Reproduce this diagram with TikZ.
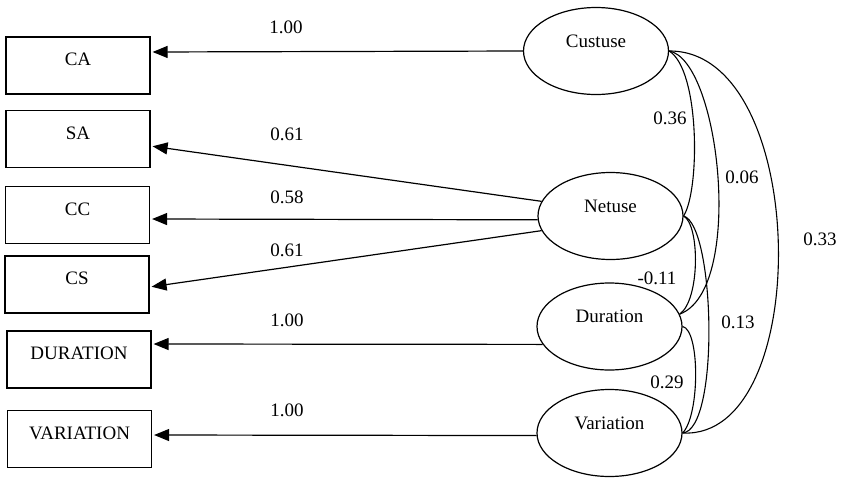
\documentclass[tikz,border=0pt]{standalone}
\usepackage{fontspec}
\setmainfont{Liberation Serif}
\usetikzlibrary{arrows.meta,shapes.geometric}
\begin{document}
\begin{tikzpicture}[x=1pt,y=-1pt,
  font=\fontsize{19}{22}\selectfont,
  obs/.style={draw, line width=1.2pt, rectangle, minimum width=144pt,
    minimum height=57pt, inner sep=0pt, text height=10pt, text depth=10pt},
  lat/.style={draw, line width=1.2pt, ellipse, minimum width=145pt,
    minimum height=87pt, inner sep=0pt, text height=10pt, text depth=18pt},
  load/.style={line width=1.2pt, -{Triangle[length=15pt,width=12pt]}, shorten >=2pt},
  cov/.style={line width=1.1pt},
  coef/.style={inner sep=0pt, anchor=center}
]
\useasboundingbox (0,0) rectangle (846,477);

% observed indicators
\node[obs] (ca)  at (78,65.5)  {CA};
\node[obs] (sa)  at (78,139)   {SA};
\node[obs] (cc)  at (77.5,215) {CC};
\node[obs] (cs)  at (77,284.5) {CS};
\node[obs] (du)  at (79,359.5) {DURATION};
\node[obs] (va)  at (79.5,439) {VARIATION};

% latent factors
\node[lat] (cust) at (596,51)    {Custuse};
\node[lat] (net)  at (610.5,216) {Netuse};
\node[lat] (dur)  at (609.5,326.5) {Duration};
\node[lat] (var)  at (609.5,433) {Variation};

% loadings
\draw[load] (cust.west) -- ([yshift=13.5pt]ca.east);
\draw[load] (net.168)   -- ([yshift=-7pt]sa.east);
\draw[load] (net.183)   -- ([yshift=-4pt]cc.east);
\draw[load] (net.192.5) -- ([yshift=-2.5pt]cs.east);
\draw[load] (dur.195)   -- ([yshift=15.5pt]du.east);
\draw[load] (var.182)   -- ([yshift=4pt]va.east);

\node[coef] (l1) at (286,27)  {1.00};
\node[coef] (l2) at (287,134) {0.61};
\node[coef] (l3) at (287,197) {0.58};
\node[coef] (l4) at (287,250) {0.61};
\node[coef] (l5) at (287,320) {1.00};
\node[coef] (l6) at (287,410) {1.00};

% factor covariances
\draw[cov] (cust.east) .. controls (700,70) and (700,190) .. (net.east);
\draw[cov] (cust.east) .. controls (720,60) and (745,290) .. (dur.10);
\draw[cov] (cust.east) .. controls (810,50) and (815,440) .. (var.east);
\draw[cov] (net.east)  .. controls (700,225) and (700,300) .. (dur.10);
\draw[cov] (net.east)  .. controls (715,225) and (720,430) .. (var.east);
\draw[cov] (dur.east)  .. controls (700,330) and (700,415) .. (var.east);

\node[coef] (c1) at (670,118) {0.36};
\node[coef] (c2) at (742,177) {0.06};
\node[coef] (c3) at (820,239) {0.33};
\node[coef] (c4) at (657,278) {-0.11};
\node[coef] (c5) at (738,322) {0.13};
\node[coef] (c6) at (667,382) {0.29};
\end{tikzpicture}
\end{document}
